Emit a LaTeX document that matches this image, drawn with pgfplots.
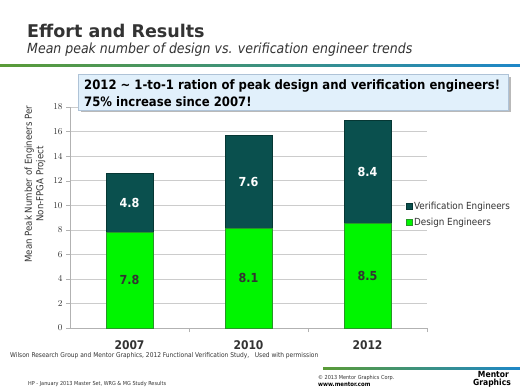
\documentclass[border=0pt]{standalone}
\usepackage{pgfplots}
\pgfplotsset{compat=1.18}
\usepackage{fontspec}
\setmainfont{DejaVu Sans}
\newfontfamily\cond{DejaVu Sans Condensed}
\definecolor{verif}{RGB}{10,80,78}
\definecolor{verifedge}{RGB}{6,55,52}
\definecolor{design}{RGB}{0,245,0}
\definecolor{designedge}{RGB}{40,150,40}
\definecolor{callfill}{RGB}{225,240,251}
\definecolor{calledge}{RGB}{175,195,215}
\definecolor{lgreen}{RGB}{90,155,55}
\definecolor{lblue}{RGB}{30,135,200}
\definecolor{txt}{RGB}{51,51,51}
\begin{document}
\begin{tikzpicture}[x=1bp,y=1bp]
\useasboundingbox (0,0) rectangle (520,390);
\fill[white] (0,0) rectangle (520,390);
% title
\node[anchor=base west, inner sep=0, text=txt] at (27,353) {\bfseries\fontsize{17.6}{20}\selectfont Effort and Results};
\node[anchor=base west, inner sep=0, text=txt] at (27,337) {\cond\itshape\fontsize{14}{16}\selectfont Mean peak number of design vs. verification engineer trends};
\shade[left color=lgreen, right color=lblue] (0,324) rectangle (520,326);
% y label
\node[rotate=90, align=center, text=txt, font=\cond\fontsize{9.6}{11.5}\selectfont] at (35,206) {Mean Peak Number of Engineers Per\\Non-FPGA Project};
\begin{axis}[
  at={(70bp,62bp)}, anchor=south west,
  scale only axis, width=357bp, height=221bp,
  ybar, bar width=47bp, bar shift=0pt,
  xmin=-0.5, xmax=2.5, ymin=0, ymax=18, enlargelimits=false,
  axis x line*=bottom, axis y line*=left,
  axis line style={draw=gray!60},
  x axis line style={-}, y axis line style={-},
  xtick={0,1,2}, xticklabels={2007,2010,2012},
  every major x tick/.append style={draw=none},
  minor xtick={0.5,1.5,2.5},
  every minor x tick/.append style={draw=gray!60},
  minor tick length=4bp,
  ytick={0,2,...,18},
  ytick style={draw=gray!60},
  major tick length=4bp, tick align=outside,
  ymajorgrids, grid style={gray!40},
  xticklabel style={font=\cond\bfseries\fontsize{12}{14}\selectfont, text=txt, yshift=-5bp},
  yticklabel style={font=\fontsize{9.5}{10}\selectfont, text=txt},
  legend style={at={(0.937,0.5136)}, anchor=west, draw=none, fill=white,
    font=\cond\fontsize{9.8}{11}\selectfont, text=txt, row sep=3bp, inner sep=1bp},
  legend cell align=left,
  legend image code/.code={\draw[#1] (0bp,-3bp) rectangle (6bp,3bp);},
]
\addplot[fill=verif, draw=verifedge] coordinates {(0,12.6) (1,15.7) (2,16.9)};
\addlegendentry{Verification Engineers}
\addplot[fill=design, draw=designedge] coordinates {(0,7.8) (1,8.1) (2,8.5)};
\addlegendentry{Design Engineers}
\addplot[forget plot, draw=none, fill=none, nodes near coords, point meta=explicit symbolic,
  nodes near coords align={center},
  every node near coord/.append style={font=\cond\bfseries\fontsize{12.5}{14}\selectfont, text=txt, anchor=center}]
  table[meta=lab] {
x y lab
0 3.9 7.8
1 4.05 8.1
2 4.25 8.5
};
\addplot[forget plot, draw=none, fill=none, nodes near coords, point meta=explicit symbolic,
  nodes near coords align={center},
  every node near coord/.append style={font=\cond\bfseries\fontsize{12.5}{14}\selectfont, text=white, anchor=center}]
  table[meta=lab] {
x y lab
0 10.2 4.8
1 11.9 7.6
2 12.7 8.4
};
\end{axis}
% callout
\fill[gray!55] (81,278) rectangle (511,313);
\draw[fill=callfill, draw=calledge] (78,280) rectangle (508,316);
\node[anchor=west, align=left, inner sep=0, font=\cond\bfseries\fontsize{13}{17}\selectfont] at (84,297) {2012 \textasciitilde{} 1-to-1 ration of peak design and verification engineers!\\75\% increase since 2007!};
% source
\node[anchor=west, inner sep=0, text=txt, font=\cond\fontsize{6.6}{8}\selectfont] at (10,34) {Wilson Research Group and Mentor Graphics, 2012 Functional Verification Study,\ \ \ Used with permission};
% footer
\node[anchor=west, inner sep=0, text=txt, font=\cond\fontsize{5.5}{7}\selectfont] at (28,6) {HP - January 2013 Master Set, WRG \& MG Study Results};
\shade[left color=lgreen, right color=lblue] (323,21) rectangle (520,22.2);
\node[anchor=west, inner sep=0, text=txt, font=\cond\fontsize{5.5}{7}\selectfont] at (318,12) {\textcopyright{} 2013 Mentor Graphics Corp.};
\node[anchor=west, inner sep=0, text=black, font=\cond\bfseries\fontsize{6}{7}\selectfont] at (318,5.5) {www.mentor.com};
\node[anchor=east, inner sep=0, font=\cond\bfseries\fontsize{8.5}{9}\selectfont] at (509,15.5) {Mentor};
\node[anchor=east, inner sep=0, font=\cond\bfseries\fontsize{8.5}{9}\selectfont] at (511,6.5) {Graphics};
\end{tikzpicture}
\end{document}
